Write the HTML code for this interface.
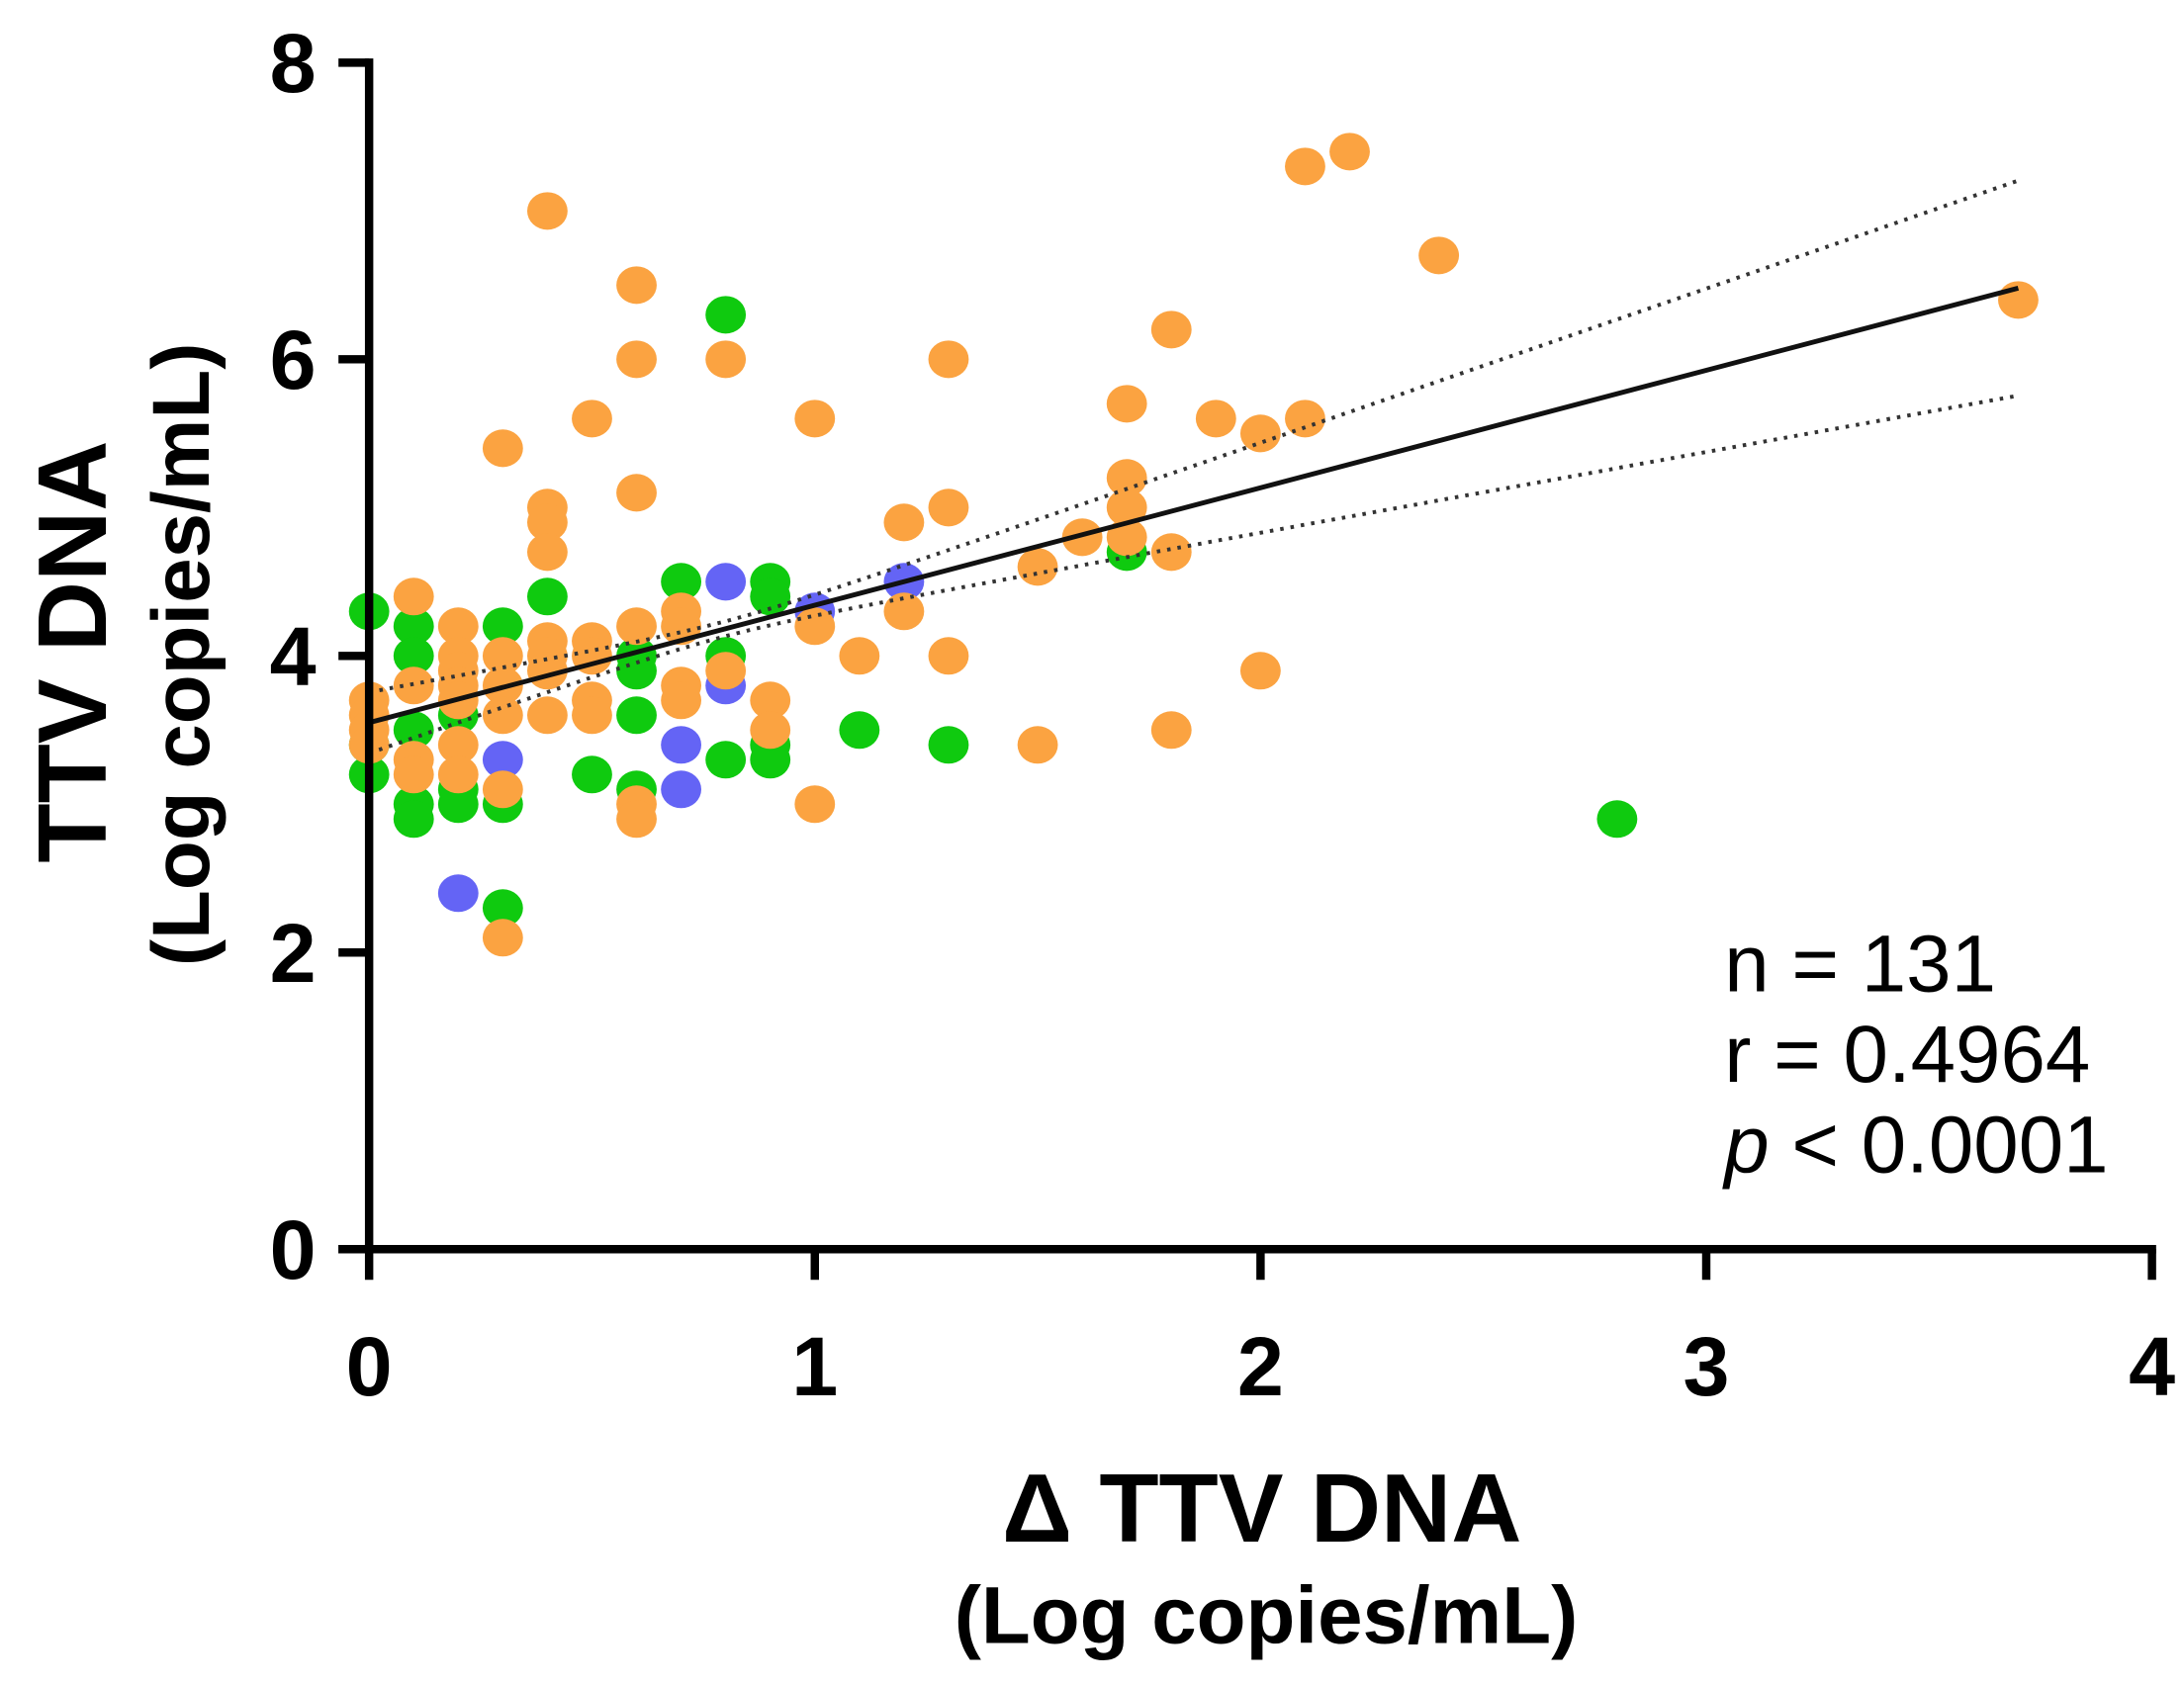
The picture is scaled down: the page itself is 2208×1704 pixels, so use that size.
<!DOCTYPE html>
<html><head><meta charset="utf-8"><style>
html,body{margin:0;padding:0;background:#fff}
svg{display:block}
text{font-family:"Liberation Sans",Arial,sans-serif}
</style></head><body>
<svg id="chart" width="2208" height="1704" viewBox="0 0 1568 1210" preserveAspectRatio="none" xmlns="http://www.w3.org/2000/svg">
<g id="pts"></g>
<g id="fit"></g>
<g id="axes"></g>
<text transform="translate(76,468) rotate(-90)" text-anchor="middle" font-size="70" font-weight="bold">TTV DNA</text>
<text transform="translate(150,470) rotate(-90)" text-anchor="middle" font-size="58" font-weight="bold">(Log copies/mL)</text>
<text x="906" y="1107" text-anchor="middle" font-size="70" font-weight="bold">Δ TTV DNA</text>
<text x="909" y="1180" text-anchor="middle" font-size="58" font-weight="bold">(Log copies/mL)</text>
<text x="1238" y="712" font-size="58">n = 131</text>
<text x="1238" y="777" font-size="58">r = 0.4964</text>
<text x="1238" y="842" font-size="58"><tspan font-style="italic">p</tspan> &lt; 0.0001</text>
</svg>
<script>
const xTicks=[0,1,2,3,4];
const yTicks=[0,2,4,6,8];
const orangeX=[0,0,0,0,0.1,0.1,0.1,0.1,0.2,0.2,0.2,0.2,0.2,0.2,0.2,0.3,0.3,0.3,0.3,0.3,0.3,0.4,0.4,0.4,0.4,0.4,0.4,0.4,0.4,0.5,0.5,0.5,0.5,0.5,0.6,0.6,0.6,0.6,0.6,0.6,0.7,0.7,0.7,0.7,0.8,0.8,0.9,0.9,1.0,1.0,1.0,1.1,1.2,1.2,1.3,1.3,1.3,1.5,1.5,1.6,1.7,1.7,1.7,1.7,1.8,1.8,1.8,1.9,2.0,2.0,2.1,2.1,2.2,2.4,3.7];
const orangeY=[3.7,3.6,3.5,3.4,4.4,3.8,3.3,3.2,4.2,4.0,3.9,3.8,3.7,3.4,3.2,5.4,4.0,3.8,3.6,3.1,2.1,7.0,5.0,4.9,4.7,4.1,4.0,3.9,3.6,5.6,4.1,4.0,3.7,3.6,6.5,6.0,5.1,4.2,3.0,2.9,4.3,4.2,3.8,3.7,6.0,3.9,3.7,3.5,5.6,4.2,3.0,4.0,4.9,4.3,6.0,5.0,4.0,4.6,3.4,4.8,5.7,5.2,5.0,4.8,6.2,4.7,3.5,5.6,5.5,3.9,7.3,5.6,7.4,6.7,6.4];
const greenX=[0,0,0,0.1,0.1,0.1,0.1,0.1,0.2,0.2,0.2,0.3,0.3,0.3,0.4,0.5,0.6,0.6,0.6,0.6,0.7,0.8,0.8,0.8,0.9,0.9,0.9,0.9,1.1,1.3,1.7,2.8];
const greenY=[4.3,3.2,3.4,4.2,4.0,3.5,3.0,2.9,3.6,3.1,3.0,4.2,3.0,2.3,4.4,3.2,4.0,3.9,3.6,3.1,4.5,6.3,4.0,3.3,4.5,4.4,3.4,3.3,3.5,3.4,4.7,2.9];
const blueX=[0.2,0.3,0.7,0.7,0.8,0.8,1.0,1.2];
const blueY=[2.4,3.3,3.4,3.1,4.5,3.8,4.3,4.5];
const fitX=[0,3.7];
const fitY=[3.55,6.48];
const ciUpperEnd=7.2, ciLowerEnd=5.75;

const NS="http://www.w3.org/2000/svg";
const X0=265,X1=1545,Y0=897,Y1=45;
const sx=v=>X0+(X1-X0)*v/4;
const sy=v=>Y0-(Y0-Y1)*v/8;
function mk(tag,attrs,parent){const e=document.createElementNS(NS,tag);for(const k in attrs)e.setAttribute(k,attrs[k]);parent.appendChild(e);return e;}
const pts=document.getElementById('pts');
function series(xs,ys,color,name){
  const g=mk('g',{},pts);
  
  
  xs.forEach((x,i)=>{
    const c=mk('ellipse',{cx:sx(x),cy:sy(ys[i]),rx:14.5,ry:13.5,fill:color},g);
    
    
  });
}
series(greenX,greenY,'#0fca0f','green');
series(blueX,blueY,'#6464f5','blue');
series(orangeX,orangeY,'#fba341','orange');

const fit=document.getElementById('fit');
const slope=(fitY[1]-fitY[0])/(fitX[1]-fitX[0]);
const f=x=>fitY[0]+slope*(x-fitX[0]);
const xm=0.8;
const wEnd=(ciUpperEnd-ciLowerEnd)/2;
const b=(wEnd*wEnd-0.0025)/((fitX[1]-xm)**2);
const w=x=>Math.sqrt(0.0025+b*(x-xm)**2);
let up='',lo='';
for(let i=0;i<=60;i++){const x=fitX[0]+(fitX[1]-fitX[0])*i/60;up+=(i?'L':'M')+sx(x)+','+sy(f(x)+w(x));lo+=(i?'L':'M')+sx(x)+','+sy(f(x)-w(x));}
const l=mk('line',{x1:sx(fitX[0]),y1:sy(fitY[0]),x2:sx(fitX[1]),y2:sy(fitY[1]),stroke:'#111','stroke-width':3.5},fit);


const u=mk('path',{d:up,fill:'none',stroke:'#333','stroke-width':2.8,'stroke-dasharray':'2.5 5'},fit);


const d=mk('path',{d:lo,fill:'none',stroke:'#333','stroke-width':2.8,'stroke-dasharray':'2.5 5'},fit);



const axes=document.getElementById('axes');
const ya=mk('line',{x1:X0,y1:Y0+3,x2:X0,y2:Y1-3,stroke:'#000','stroke-width':6},axes);


const xa=mk('line',{x1:X0-22,y1:Y0,x2:X1+3,y2:Y0,stroke:'#000','stroke-width':6},axes);


yTicks.forEach(v=>{
  mk('line',{x1:X0-22,y1:sy(v),x2:X0,y2:sy(v),stroke:'#000','stroke-width':6},axes);
  const t=mk('text',{x:X0-38,y:sy(v)+21,'text-anchor':'end','font-size':60,'font-weight':'bold'},axes);
  t.textContent=v;
  
  
});
xTicks.forEach(v=>{
  mk('line',{x1:sx(v),y1:Y0,x2:sx(v),y2:Y0+22,stroke:'#000','stroke-width':6},axes);
  const t=mk('text',{x:sx(v),y:Y0+105,'text-anchor':'middle','font-size':60,'font-weight':'bold'},axes);
  t.textContent=v;
  
  
});
</script>
</body></html>
